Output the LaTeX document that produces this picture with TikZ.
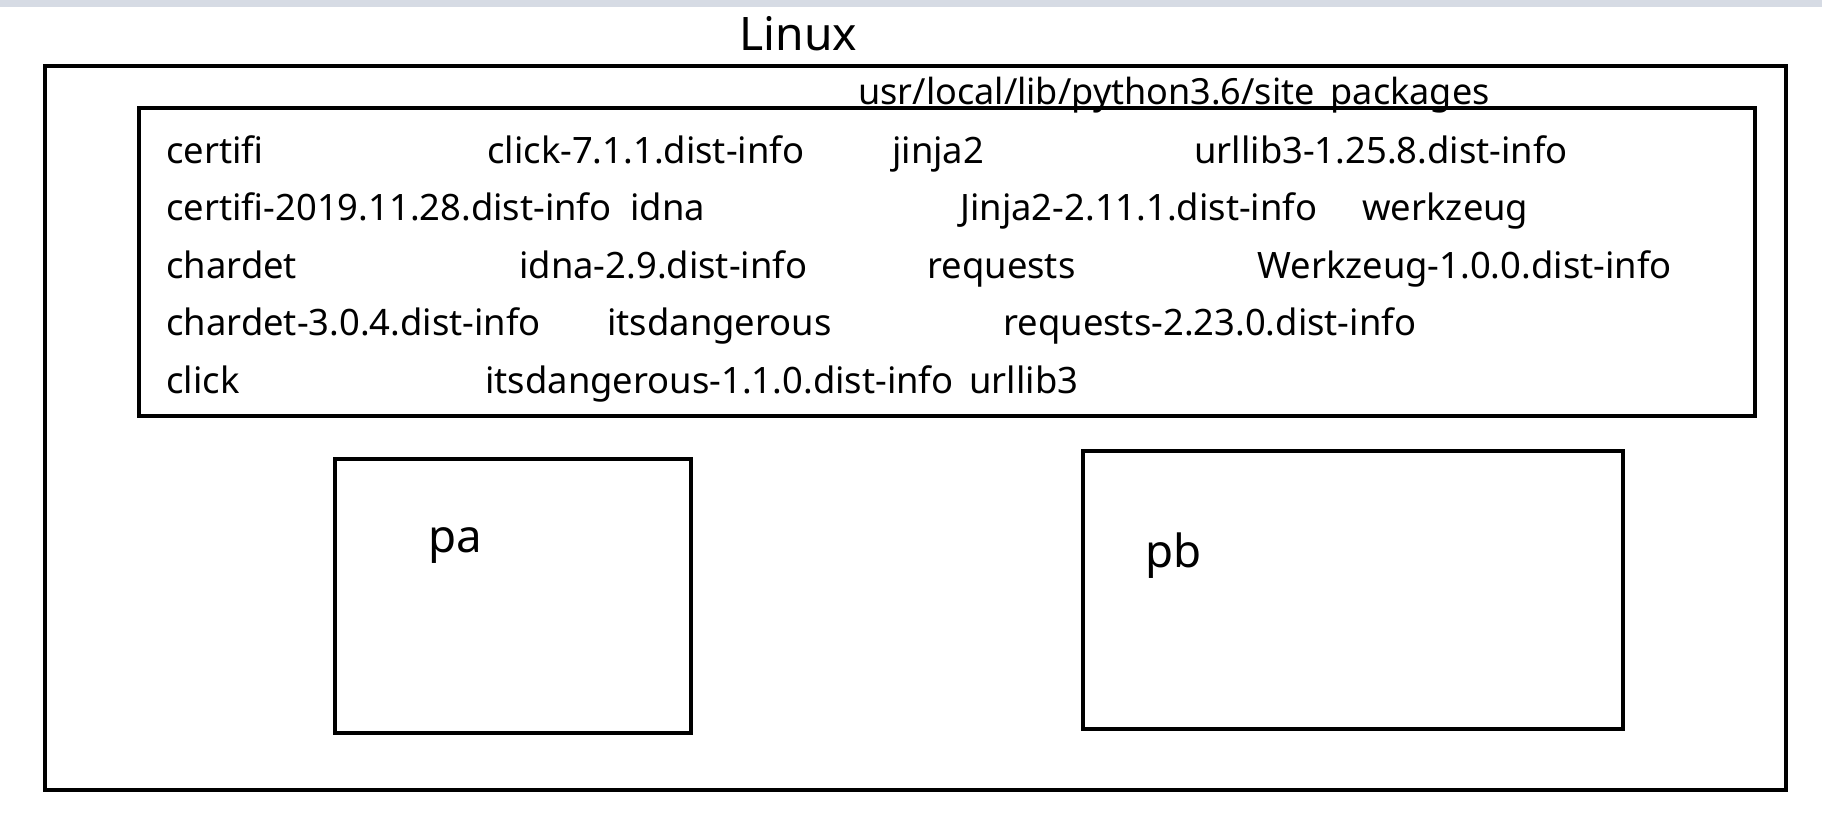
\documentclass[tikz,border=0pt]{standalone}
\usepackage{fontspec}
\setmainfont{Noto Sans}
\usetikzlibrary{positioning}
\definecolor{barcolor}{RGB}{214,219,228}
\tikzstyle{frame} = [rectangle, draw=black, line width=2.3pt, inner sep=0pt]
\tikzstyle{pkg} = [anchor=base west, inner sep=0pt, font=\fontsize{20.7}{24}\selectfont]
\tikzstyle{pathlabel} = [anchor=base west, inner sep=0pt, font=\fontsize{20.5}{24}\selectfont]
\tikzstyle{title} = [anchor=base west, inner sep=0pt, font=\fontsize{26.3}{30}\selectfont]
\tikzstyle{proc} = [anchor=base west, inner sep=0pt, font=\fontsize{26}{30}\selectfont]

\begin{document}
\begin{tikzpicture}[x=0.02cm, y=-0.02cm]
\useasboundingbox (0,0) rectangle (1822,832);
\fill [barcolor] (0,0) rectangle (1822,7);

\node [frame, minimum width=34.82cm, minimum height=14.48cm] (linux) at (915.5,428) {};
\node [title] (linuxname) at (739,50) {Linux};
\node [frame, minimum width=32.32cm, minimum height=6.16cm] (site) at (947,262) {};
\node [pathlabel] (sitepath) at (858,104) {usr/local/lib/python3.6/site\_packages};

\node [pkg] (certifi) at (166,163) {certifi};
\node [pkg] (clickinfo) at (487,163) {click-7.1.1.dist-info};
\node [pkg] (jinja) at (892,163) {jinja2};
\node [pkg] (urllibinfo) at (1194,163) {urllib3-1.25.8.dist-info};

\node [pkg] (certifiinfo) at (166,220) {certifi-2019.11.28.dist-info};
\node [pkg] (idna) at (630,220) {idna};
\node [pkg] (jinjainfo) at (960,220) {Jinja2-2.11.1.dist-info};
\node [pkg] (werkzeug) at (1362,220) {werkzeug};

\node [pkg] (chardet) at (166,278) {chardet};
\node [pkg] (idnainfo) at (519,278) {idna-2.9.dist-info};
\node [pkg] (requests) at (927,278) {requests};
\node [pkg] (werkzeuginfo) at (1257,278) {Werkzeug-1.0.0.dist-info};

\node [pkg] (chardetinfo) at (166,335) {chardet-3.0.4.dist-info};
\node [pkg] (itsdangerous) at (607,335) {itsdangerous};
\node [pkg] (requestsinfo) at (1003,335) {requests-2.23.0.dist-info};

\node [pkg] (click) at (166,393) {click};
\node [pkg] (itsdangerousinfo) at (485,393) {itsdangerous-1.1.0.dist-info};
\node [pkg] (urllib) at (969,393) {urllib3};

\node [frame, minimum width=7.12cm, minimum height=5.48cm] (pa) at (513,596) {};
\node [proc] (paname) at (428,552) {pa};
\node [frame, minimum width=10.8cm, minimum height=5.56cm] (pb) at (1353,590) {};
\node [proc] (pbname) at (1145,567) {pb};

\end{tikzpicture}
\end{document}
